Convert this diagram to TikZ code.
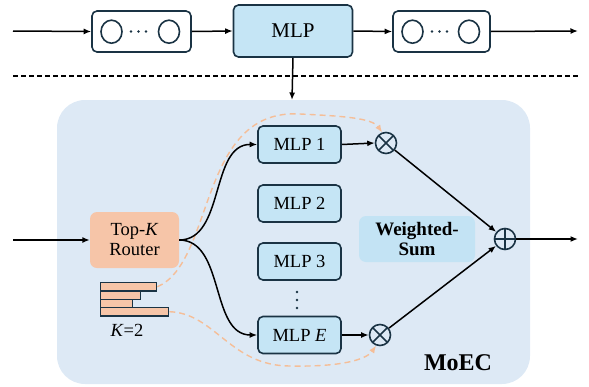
\documentclass[tikz,border=0pt]{standalone}
\usepackage{fontspec}
\setmainfont{Liberation Serif}
\usetikzlibrary{arrows.meta}
\definecolor{bgblue}{HTML}{DDE9F5}
\definecolor{mlpfill}{HTML}{C5E5F5}
\definecolor{navy}{HTML}{1A3344}
\definecolor{peach}{HTML}{F6C5A8}
\definecolor{wsfill}{HTML}{C3E3F4}
\definecolor{dashor}{HTML}{F5BE98}
\begin{document}
\begin{tikzpicture}[x=1pt,y=-1pt,
  arr/.style={-{Latex[length=7.5pt,width=6pt]}, line width=1.5pt},
  oarr/.style={-{Latex[length=7.5pt,width=6pt]}, line width=1.4pt, draw=dashor, dash pattern=on 6pt off 4pt},
  mlpbox/.style={draw=navy, fill=mlpfill, line width=1.6pt, rounded corners=5pt,
    minimum width=83pt, minimum height=37pt, inner sep=0pt, font=\fontsize{18.5}{20}\selectfont},
  seqbox/.style={draw=navy, fill=white, line width=1.6pt, rounded corners=5pt,
    minimum height=41pt, inner sep=0pt},
  bar/.style={draw=navy, fill=peach, line width=1.3pt, minimum height=8.3pt, inner sep=0pt, anchor=north west},
  opnode/.style={circle, draw=navy, line width=1.6pt, minimum size=21pt, inner sep=0pt},
  dotc/.style={fill=navy, circle, inner sep=0pt, minimum size=2.8pt},
]
\useasboundingbox (0,0) rectangle (589,386);
% background region
\fill[bgblue, rounded corners=28pt] (57,100) rectangle (530,384);

% top row
\node[seqbox, minimum width=99pt] (s1) at (141.5,31.5) {};
\node[mlpbox, minimum width=119pt, minimum height=52pt, font=\fontsize{21}{24}\selectfont] (mt) at (293,31) {MLP};
\node[seqbox, minimum width=97pt] (s3) at (441.5,31.5) {};
\draw[navy, line width=1.6pt] (111.5,31.7) ellipse [x radius=10.5, y radius=11.5];
\draw[navy, line width=1.6pt] (169,31.7) ellipse [x radius=10.5, y radius=11.5];
\draw[navy, line width=1.6pt] (412.5,31.7) ellipse [x radius=10.5, y radius=11.5];
\draw[navy, line width=1.6pt] (469,31.7) ellipse [x radius=10.5, y radius=11.5];
\foreach \x in {131,138.5,146} \node[dotc] at (\x,31.5) {};
\foreach \x in {432,439.5,447} \node[dotc] at (\x,31.5) {};
\coordinate (tin) at (13,31);
\coordinate (tout) at (578,31);
\draw[arr] (tin) -- (s1.west);
\draw[arr] (s1.east) -- (mt.west);
\draw[arr] (mt.east) -- (s3.west);
\draw[arr] (s3.east) -- (tout);
\coordinate (dl) at (13,76);
\coordinate (dr) at (578,76);
\draw[line width=1.4pt, dash pattern=on 5pt off 3pt] (dl) -- (dr);
\coordinate (mdown) at (292,100);
\draw[arr] (mt.south) -- (mdown);

% router and experts
\node[fill=peach, rounded corners=7pt, minimum width=89pt, minimum height=56pt, inner sep=0pt,
  align=center, font=\fontsize{18.5}{20}\selectfont] (router) at (134.5,240) {Top-\textit{K}\\Router};
\node[mlpbox] (m1) at (299.5,144.5) {MLP 1};
\node[mlpbox] (m2) at (299.5,203.5) {MLP 2};
\node[mlpbox] (m3) at (299.5,261.5) {MLP 3};
\node[mlpbox] (mE) at (299.5,335) {MLP \textit{E}};
\foreach \y in {292,300,308} \node[dotc] at (297,\y) {};

% bars
\node[bar, minimum width=56pt] (b1) at (100,282) {};
\node[bar, minimum width=40pt] (b2) at (100,290.3) {};
\node[bar, minimum width=32pt] (b3) at (100,298.6) {};
\node[bar, minimum width=68pt] (b4) at (100,306.9) {};
\node[font=\fontsize{18.5}{20}\selectfont] (klab) at (127,330) {\textit{K}=2};

% operators
\node[opnode, path picture={\draw[navy, line width=1.5pt]
  (path picture bounding box.north west) -- (path picture bounding box.south east)
  (path picture bounding box.south west) -- (path picture bounding box.north east);}] (o1) at (386,143) {};
\node[opnode, path picture={\draw[navy, line width=1.5pt]
  (path picture bounding box.north west) -- (path picture bounding box.south east)
  (path picture bounding box.south west) -- (path picture bounding box.north east);}] (oE) at (380,335) {};
\node[opnode, path picture={\draw[navy, line width=1.5pt]
  (path picture bounding box.north) -- (path picture bounding box.south)
  (path picture bounding box.west) -- (path picture bounding box.east);}] (op) at (505,239) {};

\node[fill=wsfill, rounded corners=7pt, minimum width=116pt, minimum height=46pt, inner sep=0pt,
  align=center, font=\fontsize{19}{20}\selectfont\bfseries] (ws) at (417,239) {Weighted-\\Sum};
\node[font=\fontsize{24}{26}\selectfont\bfseries] (moec) at (458,363) {MoEC};

% dashed orange routing curves
\draw[oarr] (b1.east) .. controls (215,262) and (198,108) .. (300,114)
  .. controls (342,116) and (372,118) .. (o1.110);
\draw[oarr] (b4.east) .. controls (215,313) and (230,366) .. (290,366)
  .. controls (340,367) and (366,360) .. (oE.250);

% connectors
\coordinate (rin) at (13,240);
\draw[arr] (rin) -- (router.west);
\draw[arr] (router.east) .. controls (225,240) and (210,144) .. (m1.west);
\draw[arr] (router.east) .. controls (225,240) and (210,335) .. (mE.west);
\draw[arr] (m1.east) -- (o1.west);
\draw[arr] (mE.east) -- (oE.west);
\draw[arr] (o1) -- (op);
\draw[arr] (oE) -- (op);
\coordinate (pout) at (578,239);
\draw[arr] (op.east) -- (pout);
\end{tikzpicture}
\end{document}
